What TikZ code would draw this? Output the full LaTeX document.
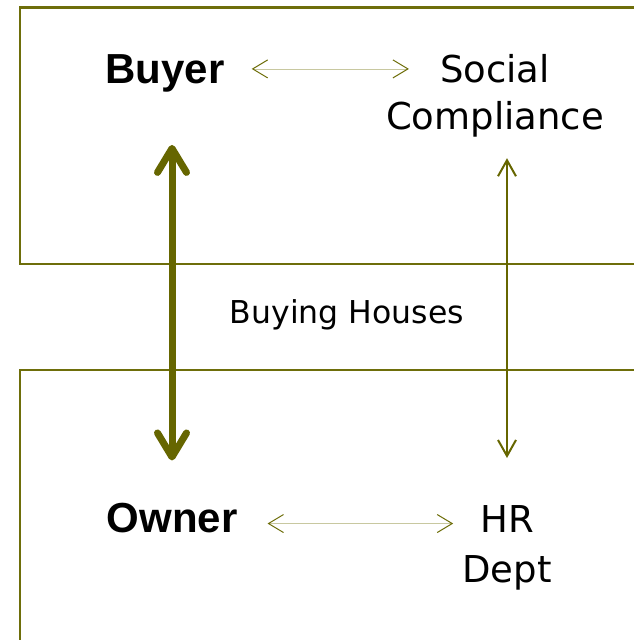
\documentclass[tikz,border=0pt]{standalone}
\usepackage{fontspec}
\setmainfont{DejaVu Sans}
\newfontfamily\arialfont{Liberation Sans}
\usetikzlibrary{arrows.meta,calc}

\definecolor{olivebox}{RGB}{110,110,10}
\definecolor{olivedark}{RGB}{102,102,0}
\definecolor{olivelight}{RGB}{200,200,160}

\tikzset{
  boxline/.style={draw=olivebox, line width=2.5pt},
  rolename/.style={inner sep=0pt, anchor=base, font=\arialfont\bfseries\fontsize{42}{47}\selectfont},
  deptname/.style={inner sep=0pt, align=center, font=\fontsize{37}{47}\selectfont},
  heavyarrow/.style={draw=olivedark, line width=7pt,
    {Straight Barb[round,length=24pt,width=29pt]}-{Straight Barb[round,length=24pt,width=29pt]}},
  thinarrow/.style={draw=olivedark, line width=2pt,
    {Straight Barb[length=16pt,width=18pt]}-{Straight Barb[length=16pt,width=18pt]}},
  linkarrow/.style={draw=olivelight, line width=0.8pt,
    {Straight Barb[color=olivebox,line width=1pt,length=15pt,width=18pt]}-{Straight Barb[color=olivebox,line width=1pt,length=15pt,width=18pt]}}
}

\begin{document}
\begin{tikzpicture}[x=1pt, y=-1pt]
\useasboundingbox (0,0) rectangle (633,640);
% the two frames, open on the right
\draw[boxline] (634,7.5) -- (20,7.5) -- (20,264) -- (634,264);
\draw[boxline] (634,370) -- (20,370) -- (20,641);
% texts
\node[rolename] (buyer) at (165,83) {Buyer};
\node[deptname, anchor=north] (social) at (495,54) {Social\\Compliance};
\node[inner sep=0pt, anchor=base, font=\fontsize{31.5}{38}\selectfont] (houses) at (347,323) {Buying Houses};
\node[rolename] (owner) at (172,532) {Owner};
\node[deptname, anchor=north, font=\fontsize{37}{50}\selectfont] (hr) at (507,505) {HR\\Dept};
% links
\draw[linkarrow, shorten <=27pt, shorten >=-23pt]
  ([yshift=4pt]buyer.east) -- ([yshift=4pt]buyer.east -| social.west);
\draw[linkarrow, shorten <=30pt, shorten >=9pt]
  ([yshift=-6pt]owner.east) -- ([yshift=-6pt]owner.east -| hr.west);
\draw[heavyarrow, shorten <=53pt, shorten >=42pt]
  (buyer.south -| owner.north) -- (owner.north);
\draw[thinarrow, shorten <=21pt, shorten >=47pt]
  (social.south -| hr.north) -- (hr.north);
\end{tikzpicture}
\end{document}
